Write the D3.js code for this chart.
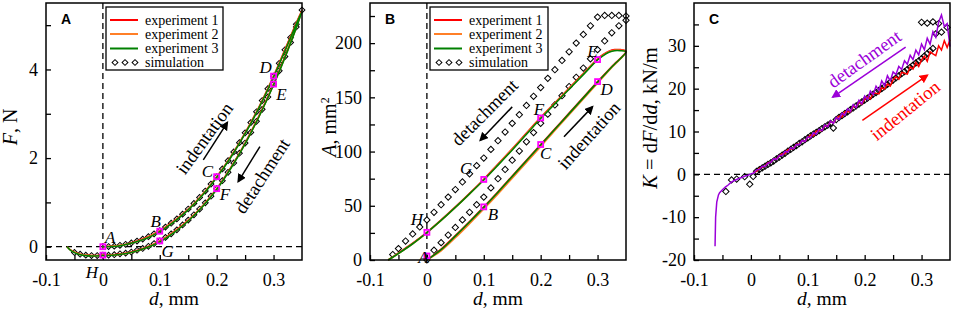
<!DOCTYPE html>
<html>
<head>
<meta charset="utf-8">
<script src="https://cdnjs.cloudflare.com/ajax/libs/d3/7.8.5/d3.min.js"></script>
<style>
body { margin: 0; background: #fff; }
</style>
</head>
<body>
<div id="chart"></div>
<script>
// ---- data ----
var xTicks = [-0.1, 0, 0.1, 0.2, 0.3];
var xMinor = [-0.05, 0.05, 0.15, 0.25];
var seriesNames = ["experiment 1", "experiment 2", "experiment 3", "simulation"];
var seriesColors = ["#ff0000", "#ff7f27", "#008000"];
var pointLetters = ["A", "B", "C", "D", "E", "F", "G", "H"];

// panel A: force F (N) vs depth d (mm)
var dIndA = [0, 0.025, 0.05, 0.075, 0.1, 0.125, 0.15, 0.175, 0.2, 0.225, 0.25, 0.275, 0.3, 0.325, 0.35];
var fIndA1 = [0, 0.02, 0.09, 0.2, 0.36, 0.58, 0.85, 1.18, 1.58, 2.04, 2.57, 3.17, 3.85, 4.6, 5.34];
var fIndA2 = [0, 0.02, 0.08, 0.19, 0.35, 0.57, 0.84, 1.17, 1.57, 2.03, 2.56, 3.16, 3.84, 4.58, 5.33];
var fIndA3 = [0, 0.01, 0.08, 0.18, 0.34, 0.56, 0.83, 1.16, 1.56, 2.02, 2.55, 3.15, 3.83, 4.57, 5.32];
var dDetA = [0.35, 0.325, 0.3, 0.275, 0.25, 0.225, 0.2, 0.175, 0.15, 0.125, 0.1, 0.075, 0.05, 0.025, 0, -0.02, -0.04, -0.055, -0.063];
var fDetA1 = [5.34, 4.45, 3.67, 2.97, 2.34, 1.79, 1.31, 0.92, 0.6, 0.34, 0.13, -0.02, -0.12, -0.17, -0.19, -0.2, -0.17, -0.09, 0];
var fDetA2 = [5.33, 4.44, 3.66, 2.96, 2.33, 1.78, 1.3, 0.91, 0.59, 0.33, 0.12, -0.03, -0.13, -0.18, -0.2, -0.2, -0.17, -0.09, 0];
var fDetA3 = [5.32, 4.43, 3.65, 2.95, 2.32, 1.77, 1.29, 0.9, 0.58, 0.32, 0.11, -0.03, -0.13, -0.18, -0.2, -0.21, -0.18, -0.1, 0];
var simIndAd = [0.01, 0.02, 0.03, 0.04, 0.05, 0.06, 0.07, 0.08, 0.09, 0.1, 0.11, 0.12, 0.13, 0.14, 0.15, 0.16, 0.17, 0.18, 0.19, 0.2, 0.21, 0.22, 0.23, 0.24, 0.25, 0.26, 0.27, 0.28, 0.29, 0.3, 0.31, 0.32, 0.33, 0.34, 0.35];
var simIndAf = [0.003, 0.013, 0.031, 0.055, 0.086, 0.126, 0.172, 0.227, 0.29, 0.362, 0.442, 0.53, 0.628, 0.735, 0.851, 0.977, 1.112, 1.257, 1.413, 1.578, 1.755, 1.942, 2.14, 2.348, 2.569, 2.801, 3.044, 3.299, 3.567, 3.847, 4.139, 4.444, 4.72, 5.02, 5.34];
var simDetAd = [0.34, 0.33, 0.32, 0.31, 0.3, 0.29, 0.28, 0.27, 0.26, 0.25, 0.24, 0.23, 0.22, 0.21, 0.2, 0.19, 0.18, 0.17, 0.16, 0.15, 0.14, 0.13, 0.12, 0.11, 0.1, 0.09, 0.08, 0.07, 0.06, 0.05, 0.04, 0.03, 0.02, 0.01, 0, -0.01, -0.02, -0.03, -0.04, -0.05];
var simDetAf = [4.96, 4.61, 4.29, 3.97, 3.67, 3.38, 3.1, 2.83, 2.58, 2.34, 2.11, 1.89, 1.68, 1.49, 1.31, 1.14, 0.99, 0.85, 0.72, 0.6, 0.49, 0.38, 0.29, 0.21, 0.13, 0.07, 0.01, -0.04, -0.08, -0.12, -0.145, -0.16, -0.18, -0.19, -0.19, -0.2, -0.2, -0.19, -0.17, -0.13];
var markAd = [0, 0.1, 0.2, 0.3, 0.3, 0.2, 0.1, 0];
var markAf = [0, 0.35, 1.58, 3.85, 3.67, 1.31, 0.13, -0.19];
var labelAd = [0.0128, 0.093, 0.1839, 0.286, 0.314, 0.2146, 0.1137, -0.0193];
var labelAf = [0.226, 0.585, 1.71, 4.045, 3.44, 1.185, -0.09, -0.564];

// panel B: contact area A (mm^2) vs depth d (mm)
var dIndB = [0, 0.025, 0.05, 0.075, 0.1, 0.125, 0.15, 0.175, 0.2, 0.225, 0.25, 0.275, 0.3, 0.325, 0.35];
var aIndB1 = [0, 10, 22.5, 35.5, 49, 63, 77.5, 92, 106.5, 121, 135.5, 150, 164.5, 178.5, 192.5];
var aIndB2 = [0, 8.5, 20.5, 33.5, 47, 61, 75.5, 90, 104.5, 119.5, 134, 148.5, 163, 177.5, 192];
var aIndB3 = [0, 9.5, 22, 35, 48.5, 62.5, 77, 91.5, 106, 120.5, 135, 149.5, 164, 178, 192];
var dDetB = [0.35, 0.34, 0.33, 0.32, 0.31, 0.3, 0.275, 0.25, 0.225, 0.2, 0.175, 0.15, 0.125, 0.1, 0.075, 0.05, 0.025, 0, -0.025, -0.05, -0.068];
var aDetB1 = [192.5, 194, 194, 192.5, 189.5, 185.5, 172, 158.5, 145, 131.5, 117, 102.5, 88.5, 74.5, 61.5, 49, 37, 25.5, 15.5, 6.5, 0];
var aDetB2 = [192, 193.5, 193.5, 192, 189, 185, 171.5, 158, 144.5, 131, 116.5, 102, 88, 74, 61, 48.5, 36.5, 25, 15, 6, 0];
var aDetB3 = [192, 193, 193, 191.5, 188.5, 184.5, 171, 157.5, 144, 130.5, 116, 101.5, 87.5, 73.8, 61, 48.5, 36.5, 25.3, 15, 6, 0];
var simUpBd = [-0.06, -0.05, -0.0375, -0.025, -0.0125, 0, 0.0125, 0.025, 0.0375, 0.05, 0.0625, 0.075, 0.0875, 0.1, 0.1125, 0.125, 0.1375, 0.15, 0.1625, 0.175, 0.1875, 0.2, 0.2125, 0.225, 0.2375, 0.25, 0.2625, 0.275, 0.2875, 0.3, 0.3125, 0.325, 0.3375, 0.35];
var simUpBa = [5, 10.5, 17.5, 24, 30.5, 37, 44, 51, 58, 65, 72, 79.5, 87, 94, 102, 110, 118, 126, 134, 142.5, 151, 159, 167.5, 175.5, 184, 192, 200, 208, 216, 224, 225.5, 225.5, 225.5, 225];
var simLoBd = [0, 0.0125, 0.025, 0.0375, 0.05, 0.0625, 0.075, 0.0875, 0.1, 0.1125, 0.125, 0.1375, 0.15, 0.1625, 0.175, 0.1875, 0.2, 0.2125, 0.225, 0.2375, 0.25, 0.2625, 0.275, 0.2875, 0.3, 0.3125, 0.325, 0.3375, 0.35];
var simLoBa = [0, 9, 16, 23, 30, 37, 44, 51, 58, 66.5, 75, 83.5, 92, 100.5, 109, 117.5, 126, 134.5, 143, 151.5, 160, 168.5, 177, 185.5, 194, 202, 209.5, 216, 221];
var markBd = [0, 0.1, 0.2, 0.3, 0.3, 0.2, 0.1, 0];
var markBa = [3.7, 49, 106.5, 164.5, 184.8, 131, 74.3, 25.5];
var labelBd = [-0.006, 0.116, 0.2086, 0.316, 0.291, 0.197, 0.069, -0.0176];
var labelBa = [3, 42.2, 98.3, 158.1, 192.7, 138.9, 84.5, 37.6];

// panel C: stiffness K (kN/m) vs depth d (mm)
var dRedC = [0.005, 0.01, 0.015, 0.02, 0.025, 0.03, 0.035, 0.04, 0.045, 0.05, 0.055, 0.06, 0.065, 0.07, 0.075, 0.08, 0.085, 0.09, 0.095, 0.1, 0.105, 0.11, 0.115, 0.12, 0.125, 0.13, 0.135, 0.14, 0.145, 0.15, 0.155, 0.16, 0.165, 0.17, 0.175, 0.18, 0.185, 0.19, 0.195, 0.2, 0.205, 0.21, 0.215, 0.22, 0.225, 0.23, 0.235, 0.24, 0.245, 0.25, 0.255, 0.26, 0.265, 0.27, 0.275, 0.28, 0.285, 0.29, 0.295, 0.3, 0.305, 0.31, 0.315, 0.32, 0.325, 0.33, 0.335, 0.34, 0.345, 0.35];
var kRedC = [0.5, 0.7, 1.4, 1.7, 1.9, 2.7, 2.85, 3.6, 3.6, 4.3, 4.8, 4.8, 5.75, 5.9, 6.0, 7.0, 7.0, 7.9, 7.7, 8.6, 9.15, 9.0, 10.1, 10.15, 10.2, 11.35, 11.3, 12.3, 12.0, 13.0, 13.6, 13.35, 14.6, 14.6, 14.6, 15.9, 15.7, 16.85, 16.4, 17.5, 18.1, 17.6, 19.0, 18.9, 18.8, 20.2, 19.9, 21.1, 20.6, 22.1, 22.8, 22.2, 23.8, 23.6, 23.4, 25.1, 24.6, 26.1, 25.2, 26.7, 27.6, 26.4, 28.6, 28.1, 27.7, 30.0, 29.0, 31.2, 29.6, 31.4];
var dPurC = [-0.063, -0.062, -0.06, -0.057, -0.055, -0.05, -0.045, -0.04, -0.035, -0.03, -0.025, -0.02, -0.015, -0.01, -0.005, 0, 0.005, 0.01, 0.015, 0.02, 0.025, 0.03, 0.035, 0.04, 0.045, 0.05, 0.055, 0.06, 0.065, 0.07, 0.075, 0.08, 0.085, 0.09, 0.095, 0.1, 0.105, 0.11, 0.115, 0.12, 0.125, 0.13, 0.135, 0.14, 0.145, 0.15, 0.155, 0.16, 0.165, 0.17, 0.175, 0.18, 0.185, 0.19, 0.195, 0.2, 0.205, 0.21, 0.215, 0.22, 0.225, 0.23, 0.235, 0.24, 0.245, 0.25, 0.255, 0.26, 0.265, 0.27, 0.275, 0.28, 0.285, 0.29, 0.295, 0.3, 0.305, 0.31, 0.315, 0.32, 0.325, 0.33, 0.335, 0.34, 0.345, 0.35];
var kPurC = [-16.8, -10, -6.5, -4.8, -4.3, -3.6, -3.0, -2.5, -1.9, -1.5, -1.2, -0.9, -0.7, -0.4, -0.2, 0.1, 0.3, 1.05, 1.15, 1.9, 1.85, 2.6, 2.8, 3.6, 3.5, 4.4, 4.4, 5.35, 5.2, 6.2, 5.95, 6.95, 6.9, 7.9, 7.65, 8.75, 8.5, 9.7, 9.35, 10.55, 10.2, 11.5, 11.1, 12.4, 11.9, 13.3, 12.8, 14.3, 13.8, 15.3, 14.7, 16.3, 15.6, 17.3, 16.5, 18.3, 17.5, 19.45, 18.6, 20.6, 19.6, 21.8, 20.7, 23.0, 21.8, 23.9, 23.3, 25.2, 24.5, 26.5, 25.7, 27.8, 26.8, 29.0, 27.9, 30.4, 29.1, 31.8, 30.4, 33.3, 32.0, 35.5, 37.2, 34.5, 35.2, 29.8];
var simCd = [-0.044, -0.034, -0.025, -0.011, -0.002, 0.004, 0.01, 0.015, 0.02, 0.025, 0.03, 0.035, 0.04, 0.045, 0.05, 0.055, 0.06, 0.065, 0.07, 0.075, 0.08, 0.085, 0.09, 0.095, 0.1, 0.105, 0.11, 0.115, 0.12, 0.125, 0.13, 0.135, 0.14, 0.145, 0.15, 0.155, 0.16, 0.165, 0.17, 0.175, 0.18, 0.185, 0.19, 0.195, 0.2, 0.205, 0.21, 0.215, 0.22, 0.225, 0.23, 0.235, 0.24, 0.245, 0.25, 0.255, 0.26, 0.265, 0.27, 0.275, 0.28, 0.285, 0.29, 0.295, 0.3, 0.305, 0.31, 0.315, 0.32, 0.325, 0.335, 0.3, 0.31, 0.32, 0.33, 0.345];
var simCk = [-4.0, -1.3, -1.1, -0.55, -2.3, -0.5, 0.7, 1.1, 1.5, 1.9, 2.3, 2.7, 3.1, 3.6, 4.0, 4.5, 4.9, 5.4, 5.8, 6.3, 6.7, 7.2, 7.6, 8.1, 8.5, 9.0, 9.4, 9.8, 10.2, 10.7, 11.1, 11.5, 11.9, 10.8, 12.8, 13.3, 13.7, 14.2, 14.6, 15.1, 15.5, 16.0, 16.4, 16.9, 17.3, 17.8, 18.2, 18.7, 19.1, 19.6, 20.0, 20.5, 21.0, 21.5, 22.0, 22.5, 23.0, 23.5, 24.0, 24.5, 25.0, 25.5, 26.0, 26.5, 27.0, 27.6, 28.2, 28.8, 29.4, 32.8, 33.2, 35.5, 35.3, 35.6, 35.2, 34.3];

(function() {
    var width = 957,
        height = 312,
        plotTop = 3,
        plotBottom = 260,
        serif = "'Liberation Serif', 'Times New Roman', serif";

    var svg = d3.select("#chart")
        .append("svg")
        .attr("width", width)
        .attr("height", height);

    var fmtX = function(d) { return d === 0 ? "0" : d.toFixed(1); };

    // arrow heads
    var defs = svg.append("defs");
    [["black", "#000"], ["red", "#ff0000"], ["purple", "#9b00d9"]].forEach(function(c) {
        defs.append("marker")
            .attr("id", "arrow-" + c[0])
            .attr("viewBox", "0 0 10 10")
            .attr("refX", 8).attr("refY", 5)
            .attr("markerWidth", 6).attr("markerHeight", 6)
            .attr("markerUnits", "strokeWidth")
            .attr("orient", "auto")
            .append("path")
            .attr("d", "M0,0 L10,5 L0,10 Z")
            .attr("fill", c[1]);
    });

    function panel(left, yDomain, yTicks, yMinor) {
        var x = d3.scaleLinear().domain([-0.1, 0.35]).range([left, left + 256]);
        var y = d3.scaleLinear().domain(yDomain).range([plotBottom, plotTop]);
        var g = svg.append("g");

        g.append("g").attr("transform", "translate(0," + plotBottom + ")")
            .call(d3.axisBottom(x).tickValues(xTicks).tickSizeInner(-5).tickSizeOuter(0).tickPadding(13).tickFormat(fmtX));
        g.append("g").attr("transform", "translate(0," + plotBottom + ")")
            .call(d3.axisBottom(x).tickValues(xMinor).tickSizeInner(-5).tickSizeOuter(0).tickFormat(""));
        g.append("g").attr("transform", "translate(" + left + ",0)")
            .call(d3.axisLeft(y).tickValues(yTicks).tickSizeInner(-5).tickSizeOuter(0).tickPadding(8).tickFormat(function(d) { return String(d); }));
        g.append("g").attr("transform", "translate(" + left + ",0)")
            .call(d3.axisLeft(y).tickValues(yMinor).tickSizeInner(-5).tickSizeOuter(0).tickFormat(""));
        g.selectAll(".domain").remove();
        g.selectAll("g").attr("font-family", serif).attr("font-size", 18);
        g.selectAll(".tick line").attr("stroke", "#000").attr("stroke-width", 1.3);
        g.selectAll(".tick text")
            .style("font-family", serif)
            .style("font-size", "18px")
            .attr("fill", "#000");

        // x title
        var xt = g.append("text")
            .attr("x", left + 128).attr("y", 305)
            .attr("text-anchor", "middle")
            .style("font-family", serif).style("font-size", "19.5px");
        xt.append("tspan").style("font-style", "italic").text("d");
        xt.append("tspan").text(", mm");

        return { g: g, x: x, y: y, left: left };
    }

    function frame(p) {
        p.g.append("rect")
            .attr("x", p.left).attr("y", plotTop)
            .attr("width", 256).attr("height", plotBottom - plotTop)
            .attr("fill", "none").attr("stroke", "#000").attr("stroke-width", 1.5);
    }

    function dashV(p, v) {
        p.g.append("line")
            .attr("x1", p.x(v)).attr("x2", p.x(v))
            .attr("y1", plotTop).attr("y2", plotBottom)
            .attr("stroke", "#000").attr("stroke-width", 1.3).attr("stroke-dasharray", "6,4");
    }
    function dashH(p, v) {
        p.g.append("line")
            .attr("x1", p.left).attr("x2", p.left + 256)
            .attr("y1", p.y(v)).attr("y2", p.y(v))
            .attr("stroke", "#000").attr("stroke-width", 1.3).attr("stroke-dasharray", "6,4");
    }

    function diamonds(p, ds, vs, fill, size) {
        p.g.append("g").selectAll("path")
            .data(ds.map(function(d, i) { return [d, vs[i]]; }))
            .enter().append("path")
            .attr("d", d3.symbol(d3.symbolSquare, size || 17))
            .attr("transform", function(d) { return "translate(" + p.x(d[0]) + "," + p.y(d[1]) + ") rotate(45)"; })
            .attr("fill", fill)
            .attr("stroke", "#000")
            .attr("stroke-width", 1);
    }

    function loop(p, dI, vI, dD, vD, color) {
        var pts = dI.map(function(d, i) { return [d, vI[i]]; })
            .concat(dD.slice(1).map(function(d, i) { return [d, vD[i + 1]]; }));
        var line = d3.line()
            .x(function(d) { return p.x(d[0]); })
            .y(function(d) { return p.y(d[1]); })
            .curve(d3.curveCatmullRom);
        p.g.append("path").attr("d", line(pts))
            .attr("fill", "none").attr("stroke", color).attr("stroke-width", 1.6);
    }

    function markers(p, ds, vs, lds, lvs) {
        p.g.append("g").selectAll("rect")
            .data(ds.map(function(d, i) { return [d, vs[i]]; }))
            .enter().append("rect")
            .attr("x", function(d) { return p.x(d[0]) - 2.5; })
            .attr("y", function(d) { return p.y(d[1]) - 2.5; })
            .attr("width", 5).attr("height", 5)
            .attr("fill", "none").attr("stroke", "#ff00ff").attr("stroke-width", 1.8);
        p.g.append("g").selectAll("text")
            .data(pointLetters)
            .enter().append("text")
            .attr("x", function(d, i) { return p.x(lds[i]); })
            .attr("y", function(d, i) { return p.y(lvs[i]); })
            .attr("dy", "0.35em")
            .attr("text-anchor", "middle")
            .style("font-family", serif).style("font-style", "italic").style("font-size", "17px")
            .text(function(d) { return d; });
    }

    function legend(p, gx, gy, w) {
        var lg = p.g.append("g").attr("transform", "translate(" + gx + "," + gy + ")");
        lg.append("rect").attr("width", w).attr("height", 63)
            .attr("fill", "#fff").attr("stroke", "#000").attr("stroke-width", 1.3);
        var rows = [13, 27, 41.5, 55.5];
        seriesColors.forEach(function(c, i) {
            lg.append("line").attr("x1", 4).attr("x2", 32).attr("y1", rows[i]).attr("y2", rows[i])
                .attr("stroke", c).attr("stroke-width", 2);
        });
        [9, 19, 29].forEach(function(cx) {
            lg.append("path").attr("d", d3.symbol(d3.symbolSquare, 17))
                .attr("transform", "translate(" + cx + "," + rows[3] + ") rotate(45)")
                .attr("fill", "#fff").attr("stroke", "#000");
        });
        seriesNames.forEach(function(n, i) {
            lg.append("text").attr("x", 39).attr("y", rows[i]).attr("dy", "0.35em")
                .style("font-family", serif).style("font-size", "14px").text(n);
        });
    }

    function note(p, d, v, angle, txt, color) {
        p.g.append("text")
            .attr("transform", "translate(" + p.x(d) + "," + p.y(v) + ") rotate(" + angle + ")")
            .attr("text-anchor", "middle").attr("dy", "0.35em")
            .attr("fill", color)
            .style("font-family", serif).style("font-size", "18.5px")
            .text(txt);
    }
    function arrow(p, d0, v0, d1, v1, color, name) {
        p.g.append("line")
            .attr("x1", p.x(d0)).attr("y1", p.y(v0))
            .attr("x2", p.x(d1)).attr("y2", p.y(v1))
            .attr("stroke", color).attr("stroke-width", 1.5)
            .attr("marker-end", "url(#arrow-" + name + ")");
    }
    function panelLetter(p, t) {
        p.g.append("text").attr("x", p.left + 15).attr("y", 24)
            .style("font-family", "'Liberation Sans', Arial, sans-serif")
            .style("font-weight", "bold").style("font-size", "14px").text(t);
    }
    function yTitle(p, xpos, ypos, size, parts) {
        var t = p.g.append("text")
            .attr("transform", "translate(" + xpos + "," + ypos + ") rotate(-90)")
            .attr("text-anchor", "middle")
            .style("font-family", serif).style("font-size", size + "px");
        parts.forEach(function(s) {
            var ts = t.append("tspan").text(s[0]);
            if (s[1]) ts.style("font-style", "italic");
            if (s[2]) ts.attr("baseline-shift", "super").style("font-size", "12px");
        });
    }

    // ---- panel A ----
    var pA = panel(46, [-0.3, 5.5], [0, 2, 4], [1, 3, 5]);
    dashV(pA, 0);
    dashH(pA, 0);
    diamonds(pA, simIndAd, simIndAf, "#fff");
    diamonds(pA, simDetAd, simDetAf, "#fff");
    loop(pA, dIndA, fIndA1, dDetA, fDetA1, seriesColors[0]);
    loop(pA, dIndA, fIndA2, dDetA, fDetA2, seriesColors[1]);
    loop(pA, dIndA, fIndA3, dDetA, fDetA3, seriesColors[2]);
    markers(pA, markAd, markAf, labelAd, labelAf);
    note(pA, 0.178, 2.45, -54, "indentation", "#000");
    arrow(pA, 0.1765, 1.96, 0.2186, 2.8, "#000", "black");
    note(pA, 0.2795, 1.6, -57, "detachment", "#000");
    arrow(pA, 0.276, 2.26, 0.238, 1.47, "#000", "black");
    legend(pA, 106, 7, 117);
    panelLetter(pA, "A");
    yTitle(pA, 17, 127, 20, [["F", true], [", N", false]]);
    frame(pA);

    // ---- panel B ----
    var pB = panel(370, [0, 237], [0, 50, 100, 150, 200], [25, 75, 125, 175, 225]);
    dashV(pB, 0);
    diamonds(pB, simUpBd, simUpBa, "#fff", 20);
    diamonds(pB, simLoBd, simLoBa, "#fff", 20);
    loop(pB, dIndB, aIndB1, dDetB, aDetB1, seriesColors[0]);
    loop(pB, dIndB, aIndB2, dDetB, aDetB2, seriesColors[1]);
    loop(pB, dIndB, aIndB3, dDetB, aDetB3, seriesColors[2]);
    markers(pB, markBd, markBa, labelBd, labelBa);
    note(pB, 0.101, 136.3, -45, "detachment", "#000");
    arrow(pB, 0.15, 141.2, 0.094, 110.5, "#000", "black");
    note(pB, 0.2845, 115.1, -48, "indentation", "#000");
    arrow(pB, 0.241, 113.6, 0.291, 141.2, "#000", "black");
    legend(pB, 430, 7, 118);
    panelLetter(pB, "B");
    yTitle(pB, 336, 127, 20, [["A", true], [", mm", false], ["2", false, true]]);
    frame(pB);

    // ---- panel C ----
    var pC = panel(694, [-20, 40], [-20, -10, 0, 10, 20, 30], [-15, -5, 5, 15, 25, 35]);
    dashH(pC, 0);
    var lineC = d3.line()
        .x(function(d) { return pC.x(d[0]); })
        .y(function(d) { return pC.y(d[1]); });
    diamonds(pC, simCd, simCk, "none", 20);
    pC.g.append("path")
        .attr("d", lineC(dRedC.map(function(d, i) { return [d, kRedC[i]]; })))
        .attr("fill", "none").attr("stroke", "#ff0000").attr("stroke-width", 1.5);
    pC.g.append("path")
        .attr("d", lineC(dPurC.map(function(d, i) { return [d, kPurC[i]]; })))
        .attr("fill", "none").attr("stroke", "#9b00d9").attr("stroke-width", 1.5);
    note(pC, 0.199, 27.0, -35.5, "detachment", "#9b00d9");
    arrow(pC, 0.272, 29.7, 0.144, 18.05, "#9b00d9", "purple");
    note(pC, 0.271, 14.95, -39, "indentation", "#ff0000");
    arrow(pC, 0.196, 12.6, 0.31, 23.1, "#ff0000", "red");
    panelLetter(pC, "C");
    yTitle(pC, 657, 118, 20.5, [["K", true], [" = d", false], ["F", true], ["/d", false], ["d", true], [", kN/m", false]]);
    frame(pC);
})();
</script>
</body>
</html>
